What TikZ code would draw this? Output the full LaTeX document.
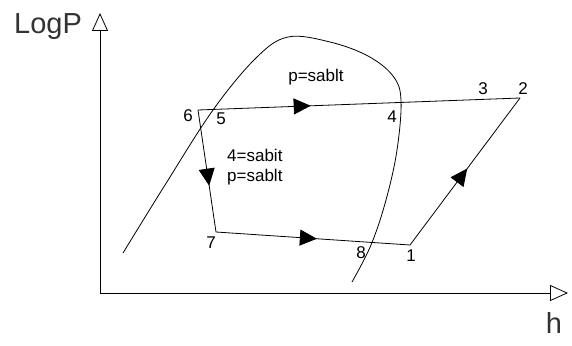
\documentclass[tikz,border=0pt]{standalone}
\usepackage{fontspec}
\setmainfont{Liberation Sans}
\usetikzlibrary{arrows.meta,decorations.markings}
\begin{document}
\begin{tikzpicture}[x=1pt,y=-1pt,
  line/.style={line width=0.8pt},
  axis/.style={line width=0.8pt,-{Triangle[open,length=18pt,width=16pt,line width=0.8pt]}},
  lbl/.style={font=\fontsize{17}{19}\selectfont,inner sep=0pt},
  big/.style={font=\fontsize{29}{31}\selectfont,inner sep=0pt,text=black!80},
  flow/.style={line, postaction={decorate},
    decoration={markings, mark=at position #1 with {\arrow{Triangle[length=17pt,width=16pt]}}}}]
\useasboundingbox (0,0) rectangle (572,345);
% axes
\coordinate (O) at (100,293);
\coordinate (Ytop) at (100,13);
\coordinate (Xend) at (568,293);
\draw[axis] (O) -- (Ytop);
\draw[axis] (O) -- (Xend);
\node[big,anchor=base west] (logp) at (14,34) {LogP};
\node[big,anchor=base] (hlab) at (554,333) {h};
% saturation dome
\draw[line] plot[smooth,tension=0.6] coordinates {(123,253) (165,185) (213,110) (256,58) (288,37) (330,42) (368,56) (393,76) (401,100) (397,150) (386,200) (371,245) (352,282)};
% cycle points
\coordinate (c6) at (198,110);
\coordinate (c2) at (520,98);
\coordinate (c7) at (216,232);
\coordinate (c1) at (410,245);
\draw[flow=0.35] (c6) -- (c2);
\draw[flow=0.62] (c6) -- (c7);
\draw[flow=0.52] (c7) -- (c1);
\draw[flow=0.52] (c1) -- (c2);
% labels
\node[lbl] (l6) at (188,116) {6};
\node[lbl] (l5) at (221,119) {5};
\node[lbl] (l4) at (392,117) {4};
\node[lbl] (l3) at (483,89) {3};
\node[lbl] (l2) at (523,89) {2};
\node[lbl] (l7) at (211,243) {7};
\node[lbl] (l8) at (361,253) {8};
\node[lbl] (l1) at (411,256) {1};
\node[lbl] (pt) at (316,77) {p=sablt};
\node[lbl,anchor=west] (q1) at (227,155) {4=sabit};
\node[lbl,anchor=west] (q2) at (227,177) {p=sablt};
\end{tikzpicture}
\end{document}
